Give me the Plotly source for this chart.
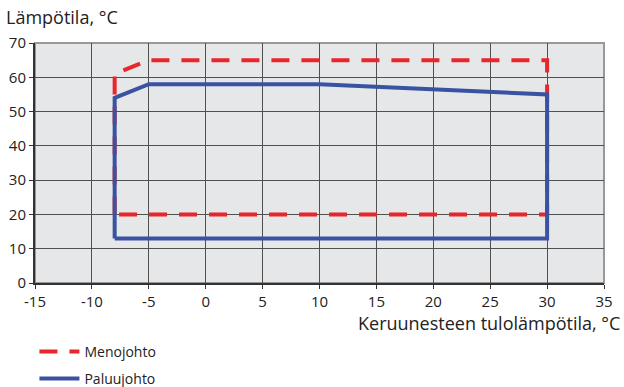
import plotly.graph_objects as go

meno_x = [-8, -8, -5, 30, 30, -8]
meno_y = [20, 61, 65, 65, 20, 20]
paluu_x = [-8, -8, -5, 10, 30, 30, -8]
paluu_y = [13, 54, 58, 58, 55, 13, 13]

x_ticks = [-15, -10, -5, 0, 5, 10, 15, 20, 25, 30, 35]
y_ticks = [0, 10, 20, 30, 40, 50, 60, 70]

RED = "#E8262B"
BLUE = "#3A52A2"
FONT = "Open Sans"

fig = go.Figure()
fig.add_trace(go.Scatter(x=meno_x, y=meno_y, mode="lines", name="Menojohto",
                         legendgroup="a",
                         line=dict(color=RED, width=4, dash="18px,12px")))
fig.add_trace(go.Scatter(x=paluu_x, y=paluu_y, mode="lines", name="Paluujohto",
                         legendgroup="b",
                         line=dict(color=BLUE, width=4)))

fig.update_layout(
    width=624, height=387,
    margin=dict(l=35, r=20, t=43, b=104, autoexpand=False),
    paper_bgcolor="white", plot_bgcolor="#E6E7E9",
    font=dict(family=FONT, size=15, color="#222"),
    showlegend=True,
    legend=dict(x=-0.001, y=-0.22, xanchor="left", yanchor="top",
                bgcolor="rgba(0,0,0,0)", font=dict(size=14, color="#222"),
                tracegroupgap=6, itemwidth=40),
    xaxis=dict(range=[-15, 35], tickvals=x_ticks, ticktext=[str(v) for v in x_ticks],
               showgrid=True, gridcolor="#505050", gridwidth=1.2,
               showline=True, linecolor="#333", linewidth=2,
               ticks="outside", ticklen=4, tickcolor="#333",
               zeroline=False, fixedrange=True, automargin=False),
    yaxis=dict(range=[0, 70], tickvals=y_ticks, ticktext=[str(v) for v in y_ticks],
               showgrid=True, gridcolor="#505050", gridwidth=1.2,
               showline=True, linecolor="#333", linewidth=2,
               ticks="outside", ticklen=4, tickcolor="#333",
               zeroline=False, fixedrange=True, automargin=False),
    shapes=[dict(type="rect", xref="paper", yref="paper", x0=0, y0=0, x1=1, y1=1,
                 line=dict(color="#999", width=2), layer="below")],
    annotations=[
        dict(text="Lämpötila, °C", xref="paper", yref="paper", x=-0.055, y=1.0,
             yshift=12, xanchor="left", yanchor="bottom", showarrow=False,
             font=dict(size=18, color="#222")),
        dict(text="Keruunesteen tulolämpötila, °C", xref="paper", yref="paper",
             x=1.031, y=0, yshift=-26, xanchor="right", yanchor="top", showarrow=False,
             font=dict(size=18, color="#222")),
    ],
)

fig.write_html("out.html", config={"displayModeBar": False},
               post_script="document.body.style.margin='0';document.body.style.overflow='hidden';")
